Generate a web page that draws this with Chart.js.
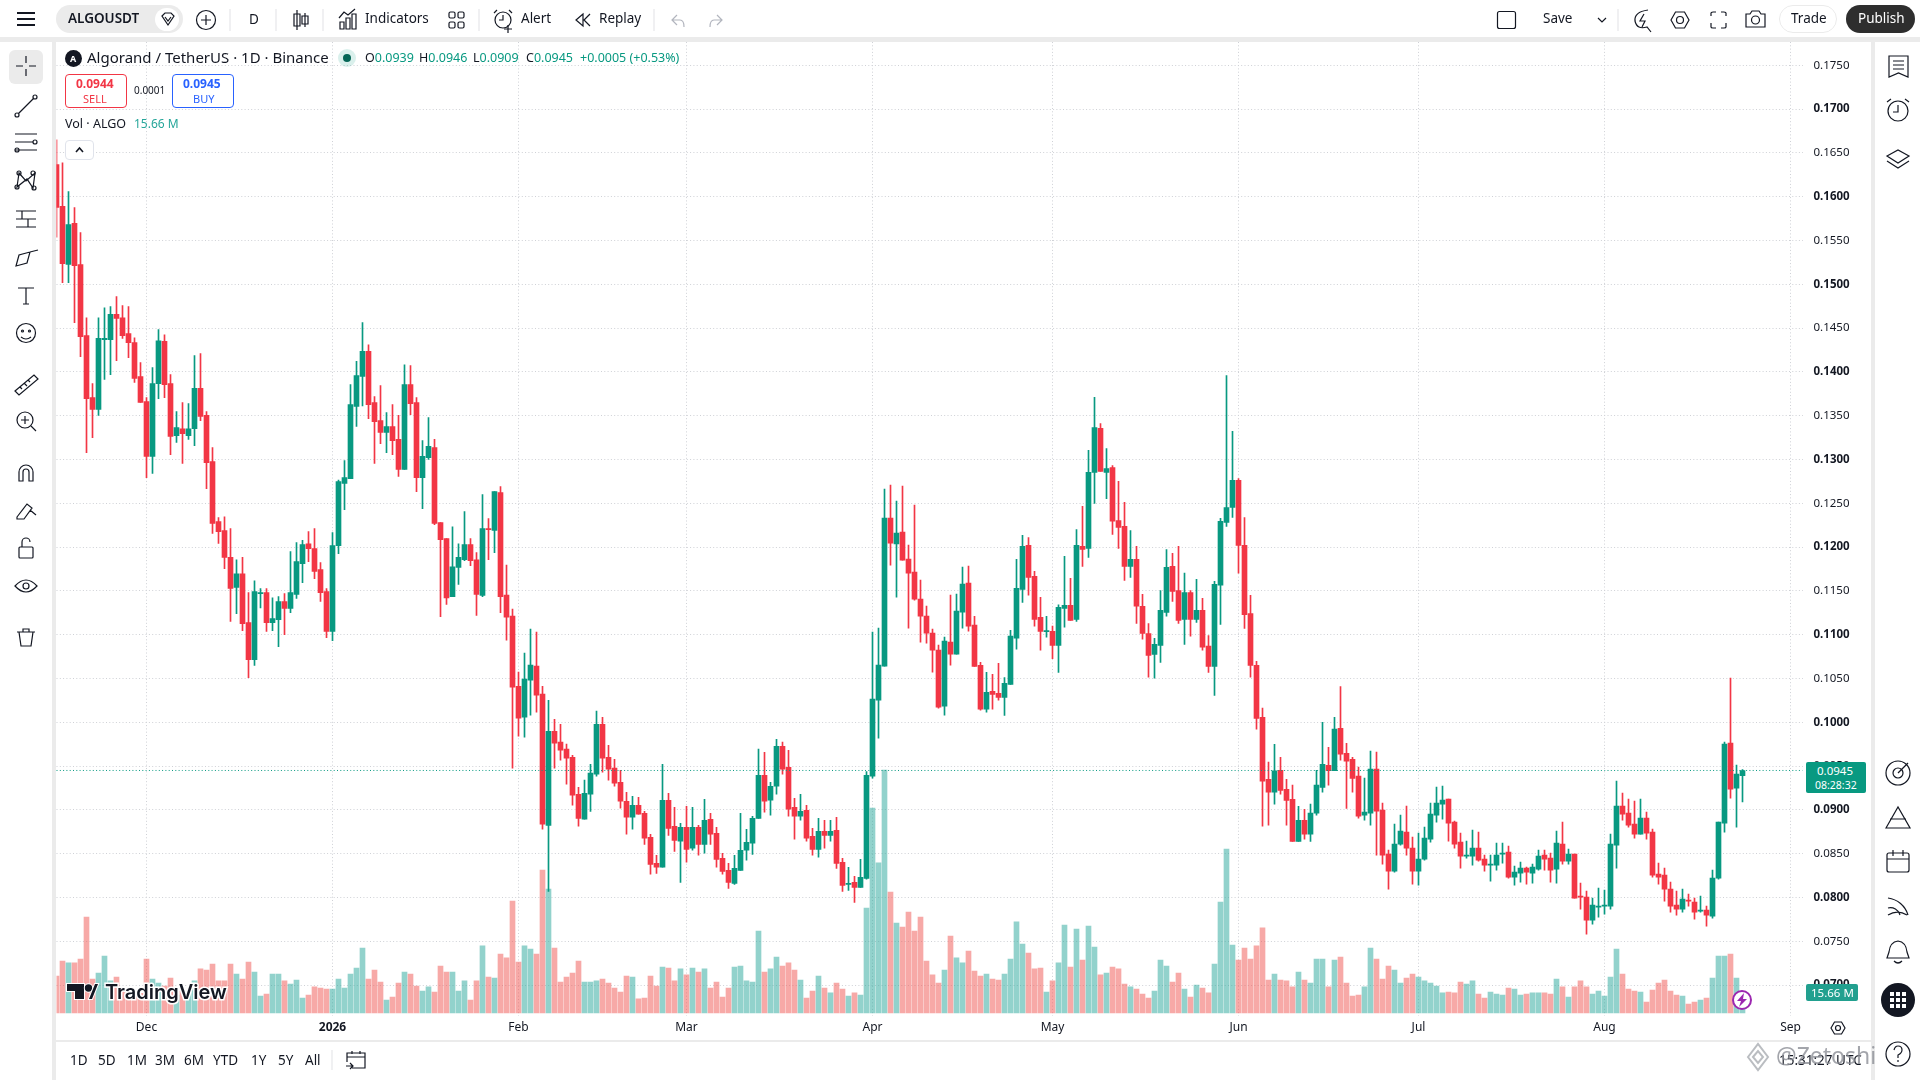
<!DOCTYPE html>
<html><head><meta charset="utf-8">
<script src="https://cdn.jsdelivr.net/npm/chart.js@4"></script>
<style>
html,body{margin:0;padding:0;width:1920px;height:1080px;overflow:hidden;background:#fff;font-family:"Noto Sans",sans-serif;color:#131722}
canvas{position:absolute;left:0;top:0;z-index:1}
.s{position:absolute;background:#ebebeb;z-index:0}
.t{position:absolute;white-space:nowrap;z-index:3;line-height:1}
.b{position:absolute;z-index:3;box-sizing:border-box}
svg.i{position:absolute;z-index:3;fill:none;stroke:#131722;stroke-width:1.2;overflow:visible}
.g{color:#089981}
</style></head><body>
<div class="s" style="left:0;top:37px;width:1920px;height:5px"></div>
<div class="s" style="left:52px;top:37px;width:4px;height:1043px"></div>
<div class="s" style="left:1871px;top:37px;width:4px;height:1043px"></div>
<div class="s" style="left:56px;top:1040px;width:1815px;height:2px"></div>
<canvas id="c" width="1920" height="1080"></canvas>

<!-- top bar -->
<svg class="i" style="left:0;top:0" width="1" height="1">
<path d="M17 13H35M17 19H35M17 25H35" stroke-width="2"/>
</svg>
<div class="b" style="left:56px;top:5px;width:127px;height:28px;border-radius:14px;background:#ebebeb"></div>
<div class="t" style="left:68px;top:12px;font-size:13.5px;font-weight:600">ALGOUSDT</div>
<div class="b" style="left:155px;top:8px;width:24px;height:23px;border-radius:12px;background:#fff"></div>
<svg class="i" style="left:0;top:0" width="1" height="1">
<path d="M162 16L165 13H171L174 16L168 25ZM165 17L168 21L171 17"/>
<circle cx="206" cy="20" r="9.5"/><path d="M201 20H211M206 15V25"/>
<path d="M230 9V31M276 9V31M323 9V31M479 9V31M654 9V31M1618 9V31" stroke="#e6e7ea"/>
<path d="M297 10V30M297 14H294V26H300V14ZM305 13V27M305 16H302V24H308V16Z"/>
<path d="M340 29V22H344V29ZM346 29V18H350V29ZM352 29V14H356V29ZM339 18L344 12L348 15L355 9"/>
<rect x="449" y="12" width="6" height="6" rx="1.5"/><rect x="458" y="12" width="6" height="6" rx="1.5"/><rect x="449" y="22" width="6" height="6" rx="1.5"/><rect x="458" y="22" width="6" height="6" rx="1.5"/>
<circle cx="503" cy="20" r="8"/><path d="M503 15V20H499M494 13L497 10M512 13L509 10M508 25V33M504 29H512"/>
<path d="M583 14L576 20L583 26ZM590 14L584 20L590 26"/>
<path d="M677 15L672 20L677 25M672 20H680Q684 20 684 27" stroke="#b2b5be"/>
<path d="M717 15L722 20L717 25M722 20H714Q710 20 710 27" stroke="#b2b5be"/>
<rect x="1497.5" y="11.5" width="18" height="17" rx="2"/>
<path d="M1598 18L1602 22L1606 18"/>
<path d="M1648 10Q1634 12 1635 21Q1637 30 1647 27L1651 32M1644 14L1640 21H1645L1642 27"/>
<path d="M1671 20L1675.5 12H1684.5L1689 20L1684.5 28H1675.5Z"/><circle cx="1680" cy="20" r="3.5"/>
<path d="M1711 16V13Q1711 12 1713 12H1716M1721 12H1724Q1726 12 1726 13V16M1726 23V27Q1726 28 1724 28H1721M1716 28H1713Q1711 28 1711 27V23"/>
<path d="M1746 14H1750L1752 11H1759L1761 14H1765V27H1746Z"/><circle cx="1755.5" cy="20" r="4"/>
</svg>
<div class="t" style="left:249px;top:13px;font-size:13.5px">D</div>
<div class="t" style="left:365px;top:12px;font-size:13.5px">Indicators</div>
<div class="t" style="left:521px;top:12px;font-size:13.5px">Alert</div>
<div class="t" style="left:599px;top:12px;font-size:13.5px">Replay</div>
<div class="t" style="left:1543px;top:12px;font-size:13.5px">Save</div>
<div class="b" style="left:1779px;top:5px;width:58px;height:28px;border-radius:14px;border:1px solid #ebebeb"></div>
<div class="t" style="left:1791px;top:12px;font-size:13.5px">Trade</div>
<div class="b" style="left:1846px;top:5px;width:69px;height:28px;border-radius:14px;background:#2e2e2e"></div>
<div class="t" style="left:1858px;top:12px;font-size:13.5px;color:#fff">Publish</div>

<!-- legend -->
<div class="b" style="left:65px;top:50px;width:17px;height:17px;border-radius:50%;background:#131722"></div>
<div class="t" style="left:70px;top:54px;font-size:9px;color:#fff;font-weight:700">A</div>
<div class="t" style="left:87px;top:50px;font-size:15px">Algorand / TetherUS · 1D · Binance</div>
<div class="b" style="left:338px;top:49px;width:18px;height:18px;border-radius:50%;background:rgba(8,153,129,.15)"></div>
<div class="b" style="left:343px;top:54px;width:8px;height:8px;border-radius:50%;background:#056656"></div>
<div class="t" style="left:365px;top:52px;font-size:12.5px">O<span class="g">0.0939</span></div>
<div class="t" style="left:419px;top:52px;font-size:12.5px">H<span class="g">0.0946</span></div>
<div class="t" style="left:473px;top:52px;font-size:12.5px">L<span class="g">0.0909</span></div>
<div class="t" style="left:526px;top:52px;font-size:12.5px">C<span class="g">0.0945</span></div>
<div class="t g" style="left:580px;top:52px;font-size:12.5px">+0.0005 (+0.53%)</div>
<div class="b" style="left:65px;top:74px;width:62px;height:34px;border:1px solid #f23645;border-radius:4px;background:#fff"></div>
<div class="t" style="left:76px;top:78px;font-size:12px;font-weight:700;color:#f23645">0.0944</div>
<div class="t" style="left:83px;top:93px;font-size:11px;color:#f23645">SELL</div>
<div class="t" style="left:134px;top:85px;font-size:10px">0.0001</div>
<div class="b" style="left:172px;top:74px;width:62px;height:34px;border:1px solid #2962ff;border-radius:4px;background:#fff"></div>
<div class="t" style="left:183px;top:78px;font-size:12px;font-weight:700;color:#2962ff">0.0945</div>
<div class="t" style="left:193px;top:93px;font-size:11px;color:#2962ff">BUY</div>
<div class="t" style="left:65px;top:118px;font-size:12.5px">Vol · ALGO</div>
<div class="t" style="left:134px;top:118px;font-size:12px;color:#26a69a">15.66 M</div>
<div class="b" style="left:65px;top:140px;width:29px;height:20px;border:1px solid #e0e3eb;border-radius:4px;background:#fff"></div>
<svg class="i" style="left:0;top:0" width="1" height="1"><path d="M76 152L79.5 148L83 152" stroke-width="1.6"/></svg>

<!-- left toolbar -->
<div class="b" style="left:9px;top:50px;width:34px;height:34px;border-radius:6px;background:#ebebeb;z-index:2"></div>
<svg class="i" style="left:0;top:0" width="1" height="1">
<path d="M26 56V63M26 69V76M16 66H23M29 66H36"/>
<circle cx="17" cy="115" r="2"/><circle cx="35" cy="97" r="2"/><path d="M18.5 113.5L33.5 98.5"/>
<path d="M15 134H37M15 142H33M15 150H37"/><circle cx="35" cy="142" r="2"/><circle cx="17" cy="150" r="2"/>
<path d="M19 173L17 187L27 179L33 188L35 173L26 181Z"/><circle cx="19" cy="173" r="2"/><circle cx="33" cy="173" r="2"/><circle cx="17" cy="187" r="2"/><circle cx="34" cy="188" r="2"/>
<path d="M16 211H36M16 219H36M16 227H36M22 211V219M28 219V227"/>
<path d="M16 266L19 255L30 252L27 263ZM30 252L38 250"/>
<path d="M18 288H34M26 288V304M23 304H29"/>
<circle cx="26" cy="333" r="9.5"/><circle cx="22.5" cy="331" r="1"/><circle cx="29.5" cy="331" r="1"/><path d="M21 337Q26 341 31 337"/>
<path d="M15 391L34 375L38 379L19 395ZM20 387L22 389M24 383L27 386M28 380L30 382"/>
<circle cx="25" cy="420" r="8"/><path d="M21 420H29M25 416V424M31 426L36 431"/>
<path d="M19 481V472A7 7 0 0 1 33 472V481H29V472A3 3 0 0 0 23 472V481Z"/>
<path d="M17 517L27 504L32 508L24 519H17ZM30 510L36 515"/>
<rect x="19" y="547" width="14" height="11" rx="1"/><path d="M22 547V542A4 4 0 0 1 30 542"/>
<path d="M15 586Q26 574 37 586Q26 598 15 586Z"/><circle cx="26" cy="586" r="3"/>
<path d="M19 632H33L31 646H21ZM17 632H35M23 632V629H29V632"/>
</svg>

<!-- right toolbar -->
<svg class="i" style="left:0;top:0" width="1" height="1">
<path d="M1889 56H1908V77L1898.5 73L1889 77ZM1893 61H1904M1893 65H1904M1893 69H1904"/>
<circle cx="1898" cy="111" r="10"/><path d="M1898 105V112H1893M1887 102L1891 99M1909 102L1905 99"/>
<path d="M1887 156L1898 150L1909 156L1898 163ZM1887 161L1898 168L1909 161"/>
<circle cx="1898" cy="773" r="12"/><circle cx="1898" cy="773" r="5"/><path d="M1898 773L1908 763"/>
<path d="M1886 828L1898 807L1910 828ZM1890 819H1906"/>
<rect x="1887" y="853" width="22" height="19" rx="2"/><path d="M1887 859H1909M1893 850V856M1903 850V856"/>
<path d="M1888 915A18 18 0 0 1 1907 915M1888 908A10 10 0 0 1 1900 915M1888 898A24 24 0 0 1 1908 915"/>
<path d="M1898 941Q1890 942 1889 952L1887 958H1909L1907 952Q1906 942 1898 941ZM1894 961Q1898 965 1902 961"/>
<circle cx="1898" cy="1054" r="12"/><path d="M1894 1050Q1895 1046 1898 1046Q1902 1046 1902 1050Q1902 1053 1898 1055V1058M1898 1060V1062"/>
</svg>
<div class="b" style="left:1881px;top:983px;width:34px;height:34px;border-radius:50%;background:#131722"></div>
<svg class="i" style="left:0;top:0;fill:#fff;stroke:none" width="1" height="1">
<rect x="1890" y="992" width="4" height="4"/><rect x="1896" y="992" width="4" height="4"/><rect x="1902" y="992" width="4" height="4"/>
<rect x="1890" y="998" width="4" height="4"/><rect x="1896" y="998" width="4" height="4"/><rect x="1902" y="998" width="4" height="4"/>
<rect x="1890" y="1004" width="4" height="4"/><rect x="1896" y="1004" width="4" height="4"/><rect x="1902" y="1004" width="4" height="4"/>
</svg>

<!-- price tags -->
<div class="b" style="left:1806px;top:762px;width:60px;height:31px;background:#089981;border-radius:2px"></div>
<div class="t" style="left:1817px;top:765px;font-size:11.5px;color:#fff">0.0945</div>
<div class="t" style="left:1815px;top:780px;font-size:10.5px;color:#fff">08:28:32</div>
<div class="b" style="left:1806px;top:984px;width:52px;height:17px;background:#22a08f;border-radius:2px"></div>
<div class="t" style="left:1811px;top:987px;font-size:11.5px;color:#fff">15.66 M</div>

<!-- lightning -->
<div class="b" style="left:1732px;top:990px;width:20px;height:20px;border-radius:50%;border:2px solid #9c27b0;background:#fff"></div>
<svg class="i" style="left:0;top:0;fill:#9c27b0;stroke:none" width="1" height="1"><path d="M1744 993L1737 1001H1741L1739 1007L1747 999H1743Z"/></svg>

<!-- axis settings -->
<svg class="i" style="left:0;top:0" width="1" height="1"><path d="M1831 1028L1834.5 1022H1841.5L1845 1028L1841.5 1034H1834.5Z"/><circle cx="1838" cy="1028" r="2.5"/></svg>

<!-- tradingview watermark -->
<svg class="i" style="left:0;top:0;fill:#131722;stroke:#fff;stroke-width:2;paint-order:stroke" width="1" height="1">
<path d="M67 984H84V999H75V991H67Z"/><circle cx="88.5" cy="988" r="3.7"/><path d="M90 999L96 984H99L93 999Z" transform="translate(-1 0)"/>
</svg>
<div class="t" style="left:105px;top:982px;font-size:20px;font-weight:600;font-family:Inter,sans-serif;color:#131722;-webkit-text-stroke:3px #fff;paint-order:stroke fill">TradingView</div>

<!-- bottom bar -->
<div class="t" style="left:70px;top:1054px;font-size:13.5px">1D</div>
<div class="t" style="left:98px;top:1054px;font-size:13.5px">5D</div>
<div class="t" style="left:127px;top:1054px;font-size:13.5px">1M</div>
<div class="t" style="left:155px;top:1054px;font-size:13.5px">3M</div>
<div class="t" style="left:184px;top:1054px;font-size:13.5px">6M</div>
<div class="t" style="left:213px;top:1054px;font-size:13.5px">YTD</div>
<div class="t" style="left:251px;top:1054px;font-size:13.5px">1Y</div>
<div class="t" style="left:278px;top:1054px;font-size:13.5px">5Y</div>
<div class="t" style="left:305px;top:1054px;font-size:13.5px">All</div>
<svg class="i" style="left:0;top:0" width="1" height="1">
<path d="M332 1050V1070" stroke="#e6e7ea"/>
<path d="M347 1062V1053H365V1068H352M347 1057H365M352 1051V1054M360 1051V1054M346 1066H353M350 1063L353 1066L350 1069"/>
</svg>
<div class="t" style="left:1779px;top:1054px;font-size:13.5px">15:31:27 UTC</div>
<svg class="i" style="left:0;top:0;stroke:#a9acb2;stroke-width:2" width="1" height="1" opacity=".8"><path d="M1748 1057L1758 1044L1768 1057L1758 1070ZM1753 1057L1758 1051L1763 1057L1758 1063Z"/></svg>
<div class="t" style="left:1776px;top:1044px;font-size:23px;color:rgba(140,143,150,.8)">@Zetoshi</div>

<script>
const startDate = "2025-11-16";
const axisSlots = 292;
const opens = [
.16366,.15889,.15226,.15695,.15226,.14415,.13706,.13571,.14369,.14369,
.14656,.14618,.14437,.14335,.13947,.13660,.13035,.13866,.14348,.13866,
.13271,.13351,.13271,.13351,.13812,.13503,.12975,.12291,.12190,.11882,
.11540,.11696,.11138,.10716,.11468,.11480,.11138,.11172,.11379,.11299,
.11459,.11810,.12038,.11983,.11742,.11493,.11037,.12017,.12726,.12781,
.13605,.13947,.14234,.13651,.13444,.13309,.13377,.13229,.12887,.13854,
.13651,.12794,.13022,.13136,.12279,.12097,.11434,.11768,.11856,.12029,
.11856,.11447,.12211,.12190,.12621,.11452,.11212,.10412,.10058,.10481,
.10641,.10321,.08824,.09898,.09773,.09693,.09601,.09179,.08893,.09179,
.09407,.09978,.09601,.09476,.09316,.09099,.08916,.09053,.08962,.08687,
.08390,.08345,.09110,.08813,.08642,.08802,.08562,.08802,.08607,.08893,
.08733,.08447,.08310,.08162,.08310,.08539,.08619,.08904,.09396,.09110,
.09270,.09727,.09487,.09030,.08927,.08996,.08699,.08550,.08756,.08710,
.08767,.08402,.08150,.08173,.08116,.08219,.09384,.10252,.10641,.12332,
.12035,.12172,.11863,.11715,.11406,.11212,.11018,.10824,.10184,.10915,
.10778,.11258,.11589,.11109,.10649,.10150,.10354,.10331,.10284,.10433,
.10959,.11517,.12020,.11667,.11199,.11034,.11038,.10877,.11301,.11336,
.11175,.12008,.11985,.12853,.13356,.12853,.12908,.12303,.12236,.11780,
.11859,.11325,.11014,.10775,.10877,.11254,.11780,.11505,.11175,.11482,
.11175,.11278,.10869,.10637,.11564,.12283,.12452,.12763,.12020,.11242,
.10649,.10056,.09348,.09203,.09451,.09234,.09121,.08641,.08881,.08724,
.08963,.09258,.09510,.09447,.09930,.09647,.09576,.09386,.08940,.08963,
.09465,.08997,.08495,.08301,.08609,.08746,.08564,.08301,.08438,.08666,
.08940,.09066,.09123,.08860,.08632,.08472,.08472,.08564,.08438,.08370,
.08370,.08495,.08518,.08233,.08278,.08335,.08278,.08324,.08484,.08450,
.08324,.08609,.08415,.08495,.08016,.08004,.07742,.07890,.07902,.07902,
.08598,.09043,.08963,.08838,.08723,.08906,.08746,.08267,.08255,.08096,
.07913,.07867,.07970,.07947,.07845,.07856,.07787,.08221,.08849,.09762,
.09249,.0939];
const closes = [
.15877,.15235,.15682,.15214,.14403,.13693,.13571,.14382,.14382,.14656,
.14610,.14415,.14335,.13926,.13651,.13035,.13866,.14356,.13854,.13263,
.13364,.13296,.13351,.13812,.13491,.12963,.12270,.12177,.11882,.11527,
.11696,.11126,.10716,.11493,.11480,.11138,.11185,.11379,.11299,.11480,
.11835,.12029,.11983,.11721,.11480,.11037,.12017,.12747,.12794,.13626,
.13959,.14234,.13626,.13432,.13309,.13377,.13216,.12887,.13854,.13638,
.12794,.13035,.13149,.12270,.12084,.11421,.11776,.11882,.12029,.11844,
.11459,.12211,.12198,.12633,.11434,.11201,.10401,.10047,.10492,.10652,
.10310,.08836,.09898,.09761,.09681,.09590,.09167,.08904,.09190,.09419,
.09978,.09590,.09464,.09304,.09099,.08916,.09053,.08950,.08676,.08379,
.08345,.09110,.08790,.08653,.08802,.08550,.08802,.08607,.08882,.08722,
.08436,.08299,.08173,.08333,.08539,.08630,.08904,.09396,.09099,.09270,
.09727,.09464,.09007,.08927,.08984,.08676,.08550,.08756,.08710,.08756,
.08390,.08139,.08162,.08116,.08230,.09396,.10264,.10652,.12332,.12046,
.12160,.11852,.11703,.11406,.11212,.11018,.10824,.10173,.10926,.10778,
.11269,.11578,.11098,.10637,.10150,.10342,.10319,.10284,.10445,.10983,
.11529,.12008,.11655,.11175,.11038,.11046,.10877,.11313,.11336,.11164,
.12020,.11973,.12853,.13364,.12865,.12896,.12295,.12224,.11780,.11859,
.11325,.11014,.10763,.10889,.11278,.11769,.11494,.11164,.11482,.11175,
.11278,.10857,.10637,.11576,.12295,.12452,.12763,.12020,.11230,.10649,
.10044,.09329,.09203,.09447,.09223,.09109,.08641,.08881,.08724,.08963,
.09282,.09521,.09447,.09922,.09635,.09557,.09360,.08929,.08975,.09465,
.08986,.08484,.08301,.08609,.08758,.08564,.08301,.08438,.08678,.08952,
.09077,.09112,.08849,.08609,.08472,.08484,.08564,.08427,.08370,.08381,
.08484,.08507,.08233,.08290,.08335,.08290,.08347,.08472,.08438,.08313,
.08621,.08415,.08495,.07993,.08004,.07742,.07913,.07902,.07913,.08609,
.09043,.08952,.08826,.08723,.08906,.08735,.08255,.08233,.08096,.07902,
.07867,.07982,.07959,.07833,.07856,.07799,.08221,.08860,.09751,.09237,
.09408,.0945];
const highs = [
.16649,.16388,.16058,.15877,.15589,.14618,.13866,.14618,.14732,.14745,
.14859,.14758,.14745,.14390,.14107,.13706,.14048,.14483,.14424,.13968,
.13546,.13651,.13638,.14187,.14209,.13546,.13136,.12338,.12346,.12211,
.11856,.11882,.11480,.11616,.11527,.11527,.11421,.11434,.11468,.11949,
.12051,.12076,.12177,.12211,.11823,.11527,.12165,.12764,.12988,.13854,
.14120,.14563,.14310,.13719,.13845,.13537,.13626,.13503,.14082,.14073,
.13706,.13216,.13478,.13229,.12279,.12097,.12232,.12038,.12405,.12097,
.11937,.12600,.12325,.12633,.12692,.11795,.11292,.10572,.10789,.11064,
.11029,.10412,.10252,.10035,.09978,.09750,.09624,.09259,.09339,.09521,
.10127,.10058,.09738,.09578,.09453,.09201,.09156,.09144,.08984,.08722,
.08482,.09521,.09190,.09030,.08847,.09042,.09030,.08824,.09121,.08962,
.08802,.08505,.08390,.08482,.08962,.08779,.08927,.09693,.09658,.09316,
.09807,.09773,.09681,.09133,.09179,.09053,.08790,.08904,.08882,.08882,
.08916,.08447,.08345,.08242,.08436,.09438,.11029,.11075,.12663,.12709,
.12526,.12697,.12023,.12480,.11623,.11326,.11064,.10881,.10972,.11452,
.11463,.11772,.11783,.11211,.10684,.10570,.10547,.10672,.10511,.11050,
.11859,.12134,.12110,.11722,.11427,.11211,.11097,.11340,.11894,.11643,
.12201,.12464,.13105,.13710,.13411,.13124,.12932,.12751,.12511,.12189,
.12008,.11462,.11128,.10959,.11505,.11973,.11930,.12008,.11702,.11505,
.11631,.11415,.10991,.11608,.12327,.13957,.13321,.12782,.12338,.11450,
.10696,.10162,.09545,.09749,.09600,.09348,.09282,.09042,.09007,.09066,
.09451,.10001,.09714,.10056,.10409,.09761,.09600,.09488,.09363,.09671,
.09660,.09077,.08541,.08838,.08940,.09043,.08689,.08735,.08803,.09077,
.09260,.09271,.09123,.08872,.08735,.08644,.08769,.08746,.08484,.08484,
.08621,.08621,.08587,.08358,.08404,.08347,.08381,.08541,.08541,.08507,
.08758,.08860,.08552,.08495,.08164,.08073,.07993,.08107,.08084,.08723,
.09328,.09192,.09123,.09100,.09123,.08975,.08781,.08392,.08335,.08176,
.08073,.08096,.08039,.07993,.08016,.07902,.08313,.08860,.09774,.10504,
.09511,.0946];
const lows = [
.15539,.15019,.15019,.14563,.14175,.13077,.13250,.13503,.13913,.13968,
.14128,.14382,.14162,.13879,.13651,.12794,.12840,.13693,.13706,.13056,
.13195,.12954,.13229,.13157,.13444,.12667,.12156,.12042,.11755,.11151,
.11240,.11046,.10509,.10649,.11307,.11037,.11046,.10864,.10999,.11252,
.11413,.11594,.11835,.11641,.11379,.10965,.10931,.11924,.12426,.12781,
.13377,.13613,.13465,.12954,.13182,.13077,.13056,.12806,.12887,.13512,
.12633,.12439,.13001,.12257,.11206,.11345,.11434,.11573,.11844,.11789,
.11219,.11434,.11856,.11937,.11252,.10938,.09476,.09841,.09830,.10081,
.10115,.08779,.08070,.09476,.09567,.09293,.09053,.08813,.08893,.08984,
.09384,.09430,.09339,.09270,.09019,.08722,.08779,.08950,.08607,.08265,
.08276,.08345,.08710,.08527,.08173,.08402,.08539,.08482,.08505,.08607,
.08345,.08265,.08105,.08150,.08310,.08425,.08493,.08904,.08973,.08939,
.09179,.09407,.08927,.08665,.08882,.08642,.08482,.08459,.08562,.08642,
.08333,.08070,.08082,.07945,.08116,.08208,.09361,.09818,.10641,.11795,
.11429,.11852,.11075,.11395,.10915,.10904,.10572,.10161,.10081,.10652,
.10778,.11075,.11041,.10637,.10138,.10115,.10150,.10252,.10079,.10433,
.10834,.11368,.11450,.11097,.10822,.10971,.10727,.10570,.11085,.11164,
.11152,.11780,.11883,.12499,.12865,.12554,.12146,.11985,.11619,.11655,
.11128,.10948,.10515,.10504,.10684,.11211,.11380,.11128,.10889,.10983,
.11140,.10822,.10570,.10307,.11116,.12236,.12338,.11702,.11073,.10515,
.09922,.08814,.08826,.09066,.09179,.08826,.08641,.08641,.08665,.08641,
.08940,.09203,.09282,.09447,.09568,.09018,.09203,.08906,.08883,.08826,
.08484,.08381,.08096,.08290,.08598,.08484,.08153,.08141,.08427,.08632,
.08860,.08895,.08644,.08564,.08335,.08450,.08370,.08415,.08301,.08187,
.08313,.08392,.08221,.08141,.08176,.08153,.08164,.08313,.08313,.08176,
.08164,.08381,.08381,.07993,.07867,.07582,.07696,.07776,.07810,.07867,
.08335,.08883,.08803,.08678,.08723,.08666,.08233,.08153,.07959,.07833,
.07799,.07833,.07902,.07753,.07833,.07673,.07765,.08210,.08746,.09134,
.08803,.0909];
const volumesM = [
29.0,40.7,39.2,39.2,42.3,75.2,26.6,31.3,44.6,25.1,
28.2,18.0,16.7,14.1,15.4,42.3,26.6,23.5,21.1,27.4,
14.1,17.2,16.7,25.1,34.5,33.7,38.4,25.1,25.1,38.4,
30.5,26.6,39.9,32.1,13.3,14.9,30.5,30.5,25.1,22.7,
25.8,11.7,14.1,20.4,19.6,18.8,18.8,26.6,19.6,30.5,
35.2,50.9,26.6,33.7,24.3,10.2,12.5,23.5,32.1,30.5,
21.1,17.2,20.4,16.4,36.8,32.1,32.1,17.2,25.1,10.2,
25.1,52.5,28.2,27.4,46.2,43.1,87.7,39.9,52.5,50.1,
46.2,112.0,97.1,50.9,24.3,28.2,31.3,40.7,24.3,24.3,
25.1,26.6,23.5,19.6,16.4,29.0,28.2,11.0,11.7,29.0,
21.1,36.0,35.2,25.1,34.5,29.8,35.2,32.1,34.5,19.6,
24.3,12.5,19.6,36.0,36.8,25.1,24.3,64.2,32.1,34.5,
43.8,36.8,39.2,33.7,25.8,11.7,17.2,29.0,19.6,15.7,
23.5,18.8,13.3,15.7,14.1,82.2,160.5,117.5,190.3,94.7,
70.5,67.3,79.1,64.2,75.2,40.7,29.8,23.5,33.7,60.3,
43.1,39.2,48.5,32.9,29.0,30.5,26.6,25.8,30.5,42.3,
71.3,54.0,47.0,34.5,35.2,16.4,25.1,39.2,68.9,36.0,
65.8,41.5,68.1,51.7,29.8,31.3,36.0,34.5,22.7,20.4,
18.8,14.9,11.7,17.2,41.5,36.8,24.3,31.3,18.8,12.5,
21.9,19.6,15.7,38.4,86.9,128.4,53.2,41.5,50.9,42.3,
52.5,66.6,25.8,30.5,25.8,25.1,20.4,32.1,25.8,23.5,
42.3,42.3,20.4,41.5,43.8,23.5,13.3,14.1,20.4,50.9,
42.3,26.6,36.8,33.7,23.5,27.4,30.5,28.2,25.1,23.5,
21.1,15.7,16.4,15.7,24.3,22.7,25.1,14.9,11.7,16.4,
14.9,14.1,19.6,18.8,14.1,14.9,15.7,15.7,15.7,14.9,
26.6,20.4,12.5,20.4,25.1,20.4,14.9,17.2,13.3,28.2,
50.1,30.5,18.8,17.2,16.4,8.6,18.0,23.5,25.8,17.2,
14.1,13.3,7.0,8.6,10.2,11.7,27.4,44.6,44.6,46.2,
27.4,15.66];
const lastPrice = 0.0945;
const priceTicks = [0.07,0.075,0.08,0.085,0.09,0.095,0.1,0.105,0.11,0.115,0.12,0.125,0.13,0.135,0.14,0.145,0.15,0.155,0.16,0.165,0.17,0.175];
const monthDates = ["2025-12-01","2026-01-01","2026-02-01","2026-03-01","2026-04-01","2026-05-01","2026-06-01","2026-07-01","2026-08-01","2026-09-01"];
const monthLabels = ["Dec","2026","Feb","Mar","Apr","May","Jun","Jul","Aug","Sep"];

const categories = [];
for (let i = 0; i < axisSlots; i++) {
  const d = new Date(startDate + "T00:00:00Z");
  d.setUTCDate(d.getUTCDate() + i);
  categories.push(d.toISOString().slice(0, 10));
}
const UP = "#089981", DOWN = "#f23645";
const isUp = opens.map((o, i) => closes[i] >= o);
const candleColors = isUp.map(u => u ? UP : DOWN);
const volColors = isUp.map(u => u ? "rgba(38,166,154,0.5)" : "rgba(239,83,80,0.5)");

new Chart(document.getElementById("c"), {
  type: "bar",
  data: {
    labels: categories,
    datasets: [
      { type: "line", data: categories.map(() => lastPrice), yAxisID: "y", borderColor: UP, borderWidth: 1, borderDash: [1, 2.3], pointRadius: 0, order: 0 },
      { data: opens.map((o, i) => [o, closes[i]]), yAxisID: "y", backgroundColor: candleColors, barThickness: 5, grouped: false, order: 1 },
      { data: lows.map((l, i) => [l, highs[i]]), yAxisID: "y", backgroundColor: candleColors, barThickness: 1, grouped: false, order: 2 },
      { data: volumesM, yAxisID: "yVol", backgroundColor: volColors, barThickness: 5, grouped: false, order: 3 }
    ]
  },
  options: {
    responsive: false, animation: false, devicePixelRatio: 1,
    layout: { padding: { left: 56.5, top: 42, right: 0, bottom: 0 } },
    plugins: { legend: { display: false }, tooltip: { enabled: false } },
    events: [],
    scales: {
      x: {
        type: "category", offset: false,
        afterBuildTicks: s => { s.ticks = monthDates.map(d => ({ value: categories.indexOf(d) })); },
        afterFit: s => { s.height = 64; },
        grid: { color: "#cfd1d6", lineWidth: 1, drawTicks: false, offset: false },
        border: { display: false, dash: [1, 2.3] },
        ticks: {
          autoSkip: false, maxRotation: 0, minRotation: 0, padding: 4, color: "#131722",
          callback: v => monthLabels[monthDates.indexOf(categories[v])],
          font: c => ({ family: '"Noto Sans"', size: 12, weight: c.tick && categories[c.tick.value] === "2026-01-01" ? "bold" : "normal" })
        }
      },
      y: {
        position: "right", min: 0.17 - (1016 - 109.1) / 8760, max: 0.17 + (109.1 - 42) / 8760,
        afterBuildTicks: s => { s.ticks = priceTicks.map(v => ({ value: v })); },
        afterFit: s => { s.width = 117.5; },
        grid: { color: "#cfd1d6", lineWidth: 1, drawTicks: false },
        border: { display: false, dash: [1, 2.3] },
        ticks: {
          padding: 11, color: "#131722", autoSkip: false,
          callback: v => v.toFixed(4),
          font: c => ({ family: '"Noto Sans"', size: 11.5, weight: c.tick && Math.round(c.tick.value * 1000) % 10 === 0 ? "bold" : "normal" })
        }
      },
      yVol: {
        display: false, position: "left", min: -2.35, max: (1013 - 42) * 0.783,
        grid: { display: false }
      }
    }
  }
});
</script>
</body></html>
